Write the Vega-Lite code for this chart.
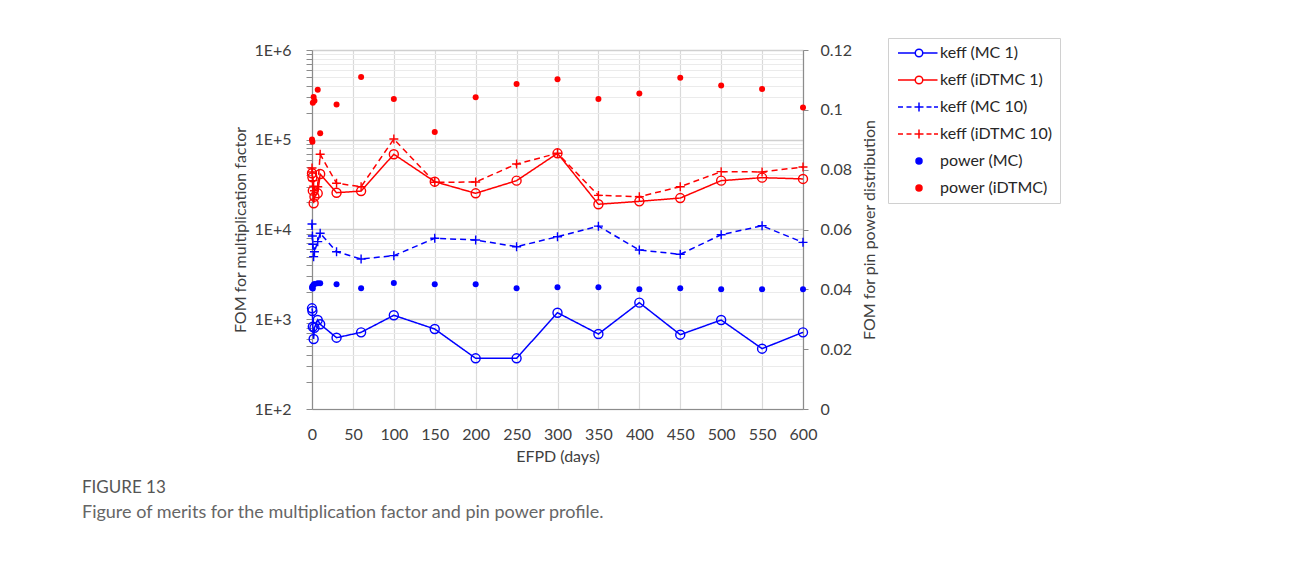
{
  "$schema": "https://vega.github.io/schema/vega-lite/v6.json",
  "width": 491,
  "height": 359,
  "autosize": {"type": "none"},
  "padding": {"left": 312, "top": 50, "right": 487, "bottom": 152},
  "background": "white",
  "config": {
    "view": {"stroke": null},
    "font": "Lato",
    "axis": {
      "labelFont": "Lato", "titleFont": "Lato", "labelFontSize": 16, "titleFontSize": 16,
      "labelColor": "#404040", "titleColor": "#404040", "titleFontWeight": "normal",
      "domainColor": "#8c8c8c", "tickColor": "#8c8c8c", "domainWidth": 1.2
    },
    "legend": {
      "labelFont": "Lato", "labelFontSize": 16, "labelColor": "#262626",
      "symbolSize": 100, "symbolStrokeWidth": 1.5, "symbolOpacity": 1,
      "strokeColor": "#d0d0d0", "fillColor": "white", "padding": 7,
      "rowPadding": 11, "symbolOffset": 16, "labelOffset": 13, "labelLimit": 300
    }
  },
  "title": {
    "text": "FIGURE 13",
    "subtitle": "Figure of merits for the multiplication factor and pin power profile.",
    "orient": "bottom", "anchor": "start", "frame": "group", "dx": -230, "offset": 16,
    "font": "Lato", "fontSize": 17, "fontWeight": "normal", "color": "#555555",
    "subtitleFont": "Lato", "subtitleFontSize": 18, "subtitleColor": "#666666", "subtitlePadding": 7
  },
  "data": {"values": [
    {"series":"keff (MC 1)","efpd":0,"fom":1324},{"series":"keff (MC 1)","efpd":0.5,"fom":1236},{"series":"keff (MC 1)","efpd":1,"fom":826},{"series":"keff (MC 1)","efpd":2,"fom":603},{"series":"keff (MC 1)","efpd":3,"fom":805},{"series":"keff (MC 1)","efpd":7,"fom":981},{"series":"keff (MC 1)","efpd":10,"fom":880},{"series":"keff (MC 1)","efpd":30,"fom":623},{"series":"keff (MC 1)","efpd":60,"fom":715},{"series":"keff (MC 1)","efpd":100,"fom":1107},{"series":"keff (MC 1)","efpd":150,"fom":778},{"series":"keff (MC 1)","efpd":200,"fom":367},{"series":"keff (MC 1)","efpd":250,"fom":367},{"series":"keff (MC 1)","efpd":300,"fom":1183},{"series":"keff (MC 1)","efpd":350,"fom":685},{"series":"keff (MC 1)","efpd":400,"fom":1530},{"series":"keff (MC 1)","efpd":450,"fom":673},{"series":"keff (MC 1)","efpd":500,"fom":981},{"series":"keff (MC 1)","efpd":550,"fom":470},{"series":"keff (MC 1)","efpd":600,"fom":715},
    {"series":"keff (iDTMC 1)","efpd":0,"fom":42300},{"series":"keff (iDTMC 1)","efpd":0.5,"fom":38200},{"series":"keff (iDTMC 1)","efpd":1,"fom":27100},{"series":"keff (iDTMC 1)","efpd":2,"fom":19600},{"series":"keff (iDTMC 1)","efpd":3,"fom":23200},{"series":"keff (iDTMC 1)","efpd":7,"fom":25300},{"series":"keff (iDTMC 1)","efpd":10,"fom":41500},{"series":"keff (iDTMC 1)","efpd":30,"fom":25700},{"series":"keff (iDTMC 1)","efpd":60,"fom":26800},{"series":"keff (iDTMC 1)","efpd":100,"fom":68900},{"series":"keff (iDTMC 1)","efpd":150,"fom":34100},{"series":"keff (iDTMC 1)","efpd":200,"fom":25300},{"series":"keff (iDTMC 1)","efpd":250,"fom":35000},{"series":"keff (iDTMC 1)","efpd":300,"fom":70600},{"series":"keff (iDTMC 1)","efpd":350,"fom":19100},{"series":"keff (iDTMC 1)","efpd":400,"fom":20600},{"series":"keff (iDTMC 1)","efpd":450,"fom":22400},{"series":"keff (iDTMC 1)","efpd":500,"fom":35000},{"series":"keff (iDTMC 1)","efpd":550,"fom":37800},{"series":"keff (iDTMC 1)","efpd":600,"fom":36600},
    {"series":"keff (MC 10)","efpd":0,"fom":11500},{"series":"keff (MC 10)","efpd":0.5,"fom":8470},{"series":"keff (MC 10)","efpd":1,"fom":6840},{"series":"keff (MC 10)","efpd":2,"fom":4980},{"series":"keff (MC 10)","efpd":3,"fom":5660},{"series":"keff (MC 10)","efpd":7,"fom":7320},{"series":"keff (MC 10)","efpd":10,"fom":9080},{"series":"keff (MC 10)","efpd":30,"fom":5660},{"series":"keff (MC 10)","efpd":60,"fom":4690},{"series":"keff (MC 10)","efpd":100,"fom":5110},{"series":"keff (MC 10)","efpd":150,"fom":7980},{"series":"keff (MC 10)","efpd":200,"fom":7640},{"series":"keff (MC 10)","efpd":250,"fom":6430},{"series":"keff (MC 10)","efpd":300,"fom":8310},{"series":"keff (MC 10)","efpd":350,"fom":10900},{"series":"keff (MC 10)","efpd":400,"fom":5910},{"series":"keff (MC 10)","efpd":450,"fom":5290},{"series":"keff (MC 10)","efpd":500,"fom":8750},{"series":"keff (MC 10)","efpd":550,"fom":11000},{"series":"keff (MC 10)","efpd":600,"fom":7190},
    {"series":"keff (iDTMC 10)","efpd":0,"fom":48400},{"series":"keff (iDTMC 10)","efpd":0.5,"fom":43700},{"series":"keff (iDTMC 10)","efpd":1,"fom":35000},{"series":"keff (iDTMC 10)","efpd":2,"fom":30400},{"series":"keff (iDTMC 10)","efpd":3,"fom":27000},{"series":"keff (iDTMC 10)","efpd":7,"fom":30000},{"series":"keff (iDTMC 10)","efpd":10,"fom":69000},{"series":"keff (iDTMC 10)","efpd":30,"fom":32700},{"series":"keff (iDTMC 10)","efpd":60,"fom":30000},{"series":"keff (iDTMC 10)","efpd":100,"fom":101900},{"series":"keff (iDTMC 10)","efpd":150,"fom":33600},{"series":"keff (iDTMC 10)","efpd":200,"fom":33800},{"series":"keff (iDTMC 10)","efpd":250,"fom":53700},{"series":"keff (iDTMC 10)","efpd":300,"fom":70600},{"series":"keff (iDTMC 10)","efpd":350,"fom":24000},{"series":"keff (iDTMC 10)","efpd":400,"fom":23200},{"series":"keff (iDTMC 10)","efpd":450,"fom":30000},{"series":"keff (iDTMC 10)","efpd":500,"fom":44100},{"series":"keff (iDTMC 10)","efpd":550,"fom":43800},{"series":"keff (iDTMC 10)","efpd":600,"fom":49700},
    {"series":"power (MC)","efpd":0,"fom":0.0405},{"series":"power (MC)","efpd":0.5,"fom":0.041},{"series":"power (MC)","efpd":1,"fom":0.0403},{"series":"power (MC)","efpd":2,"fom":0.0415},{"series":"power (MC)","efpd":3,"fom":0.0418},{"series":"power (MC)","efpd":7,"fom":0.042},{"series":"power (MC)","efpd":10,"fom":0.042},{"series":"power (MC)","efpd":30,"fom":0.0417},{"series":"power (MC)","efpd":60,"fom":0.0404},{"series":"power (MC)","efpd":100,"fom":0.0421},{"series":"power (MC)","efpd":150,"fom":0.0417},{"series":"power (MC)","efpd":200,"fom":0.0417},{"series":"power (MC)","efpd":250,"fom":0.0404},{"series":"power (MC)","efpd":300,"fom":0.0407},{"series":"power (MC)","efpd":350,"fom":0.0407},{"series":"power (MC)","efpd":400,"fom":0.04},{"series":"power (MC)","efpd":450,"fom":0.0404},{"series":"power (MC)","efpd":500,"fom":0.04},{"series":"power (MC)","efpd":550,"fom":0.04},{"series":"power (MC)","efpd":600,"fom":0.04},
    {"series":"power (iDTMC)","efpd":0,"fom":0.0901},{"series":"power (iDTMC)","efpd":0.5,"fom":0.0893},{"series":"power (iDTMC)","efpd":1,"fom":0.1024},{"series":"power (iDTMC)","efpd":2,"fom":0.1043},{"series":"power (iDTMC)","efpd":3,"fom":0.103},{"series":"power (iDTMC)","efpd":7,"fom":0.1067},{"series":"power (iDTMC)","efpd":10,"fom":0.0922},{"series":"power (iDTMC)","efpd":30,"fom":0.1018},{"series":"power (iDTMC)","efpd":60,"fom":0.111},{"series":"power (iDTMC)","efpd":100,"fom":0.1036},{"series":"power (iDTMC)","efpd":150,"fom":0.0926},{"series":"power (iDTMC)","efpd":200,"fom":0.1042},{"series":"power (iDTMC)","efpd":250,"fom":0.1086},{"series":"power (iDTMC)","efpd":300,"fom":0.1102},{"series":"power (iDTMC)","efpd":350,"fom":0.1036},{"series":"power (iDTMC)","efpd":400,"fom":0.1055},{"series":"power (iDTMC)","efpd":450,"fom":0.1107},{"series":"power (iDTMC)","efpd":500,"fom":0.1081},{"series":"power (iDTMC)","efpd":550,"fom":0.107},{"series":"power (iDTMC)","efpd":600,"fom":0.1008}
  ]},
  "encoding": {
    "x": {
      "field": "efpd", "type": "quantitative",
      "scale": {"domain": [0, 600], "nice": false},
      "axis": {
        "values": [0,50,100,150,200,250,300,350,400,450,500,550,600],
        "title": "EFPD (days)", "ticks": false, "tickSize": 0, "labelPadding": 17, "titlePadding": 6,
        "grid": true, "gridColor": "#d9d9d9", "gridWidth": 1.2, "labelFlush": false
      }
    }
  },
  "layer": [
    {
      "encoding": {
        "y": {
          "field": "fom", "type": "quantitative",
          "scale": {"type": "log", "domain": [100, 1000000], "nice": false},
          "axis": {
            "orient": "left",
            "title": "FOM for multiplication factor",
            "values": [100,200,300,400,500,600,700,800,900,1000,2000,3000,4000,5000,6000,7000,8000,9000,10000,20000,30000,40000,50000,60000,70000,80000,90000,100000,200000,300000,400000,500000,600000,700000,800000,900000,1000000],
            "labelExpr": "abs(log(datum.value)/LN10 - round(log(datum.value)/LN10)) < 0.001 ? '1E+' + round(log(datum.value)/LN10) : ''",
            "labelOverlap": false, "labelBound": false, "labelFlush": false,
            "tickSize": 6, "labelPadding": 15, "titlePadding": 5,
            "grid": true,
            "gridColor": {"condition": {"test": "abs(log(datum.value)/LN10 - round(log(datum.value)/LN10)) < 0.001", "value": "#d0d0d0"}, "value": "#ebebeb"},
            "gridWidth": {"condition": {"test": "abs(log(datum.value)/LN10 - round(log(datum.value)/LN10)) < 0.001", "value": 1.3}, "value": 1}
          }
        },
        "stroke": {
          "field": "series", "type": "nominal",
          "legend": {"title": null, "orient": "none", "legendX": 576, "legendY": -12},
          "scale": {"domain": ["keff (MC 1)", "keff (iDTMC 1)", "keff (MC 10)", "keff (iDTMC 10)", "power (MC)", "power (iDTMC)"], "range": ["#0000ff", "#ff0000", "#0000ff", "#ff0000", "#0000ff", "#ff0000"]}
        }
      },
      "layer": [
        {
          "transform": [{"filter": {"field": "series", "oneOf": ["keff (MC 1)", "keff (iDTMC 1)", "keff (MC 10)", "keff (iDTMC 10)"]}}],
          "mark": {"type": "line", "strokeWidth": 1.5},
          "encoding": {
            "strokeDash": {
              "field": "series", "type": "nominal", "legend": null,
              "scale": {"domain": ["keff (MC 1)", "keff (iDTMC 1)", "keff (MC 10)", "keff (iDTMC 10)"], "range": [[1, 0], [1, 0], [6, 4], [6, 4]]}
            }
          }
        },
        {
          "transform": [{"filter": {"field": "series", "oneOf": ["keff (MC 1)", "keff (iDTMC 1)"]}}],
          "mark": {"type": "point", "shape": "circle", "filled": false, "size": 81, "strokeWidth": 1.4, "opacity": 1}
        },
        {
          "transform": [{"filter": {"field": "series", "oneOf": ["keff (MC 10)", "keff (iDTMC 10)"]}}],
          "mark": {"type": "point", "shape": "M-1,0H1M0,-1V1", "filled": false, "size": 81, "strokeWidth": 1.4, "opacity": 1}
        },
        {
          "transform": [{"filter": {"field": "series", "oneOf": ["keff (MC 1)", "keff (iDTMC 1)", "keff (MC 10)", "keff (iDTMC 10)"]}}],
          "mark": {"type": "point", "opacity": 0, "clip": true},
          "encoding": {
            "shape": {
              "field": "series", "type": "nominal",
              "legend": {"title": null, "orient": "none", "legendX": 576, "legendY": -12},
              "scale": {"domain": ["keff (MC 1)", "keff (iDTMC 1)", "keff (MC 10)", "keff (iDTMC 10)", "power (MC)", "power (iDTMC)"],
                "range": [
                  "M-4.2,0H-0.75M0.75,0H3.7M-0.75,0A0.75,0.75 0 1,0 0.75,0A0.75,0.75 0 1,0 -0.75,0",
                  "M-4.2,0H-0.75M0.75,0H3.7M-0.75,0A0.75,0.75 0 1,0 0.75,0A0.75,0.75 0 1,0 -0.75,0",
                  "M-4.2,0H-3.2M-2.5,0H-1.5M-0.9,0H0.9M0,-0.9V0.9M1.5,0H2.5M3.0,0H3.8",
                  "M-4.2,0H-3.2M-2.5,0H-1.5M-0.9,0H0.9M0,-0.9V0.9M1.5,0H2.5M3.0,0H3.8",
                  "M-0.6,0A0.6,0.6 0 1,0 0.6,0A0.6,0.6 0 1,0 -0.6,0",
                  "M-0.6,0A0.6,0.6 0 1,0 0.6,0A0.6,0.6 0 1,0 -0.6,0"
                ]}
            },
            "fill": {
              "field": "series", "type": "nominal",
              "legend": {"title": null, "orient": "none", "legendX": 576, "legendY": -12},
              "scale": {"domain": ["keff (MC 1)", "keff (iDTMC 1)", "keff (MC 10)", "keff (iDTMC 10)", "power (MC)", "power (iDTMC)"], "range": ["transparent", "transparent", "transparent", "transparent", "#0000ff", "#ff0000"]}
            }
          }
        }
      ]
    },
    {
      "transform": [{"filter": {"field": "series", "oneOf": ["power (MC)", "power (iDTMC)"]}}],
      "mark": {"type": "point", "shape": "circle", "filled": true, "size": 36, "opacity": 1},
      "encoding": {
        "y": {
          "field": "fom", "type": "quantitative",
          "scale": {"domain": [0, 0.12], "nice": false},
          "axis": {
            "orient": "right", "title": "FOM for pin power distribution",
            "values": [0, 0.02, 0.04, 0.06, 0.08, 0.1, 0.12],
            "labelExpr": "format(datum.value, '.2~f')",
            "grid": false, "tickSize": 5, "labelPadding": 12, "titlePadding": 10,
            "titleAngle": 270, "titleBaseline": "top", "labelFlush": false
          }
        },
        "fill": {"field": "series", "type": "nominal", "legend": {"title": null, "orient": "none", "legendX": 576, "legendY": -12}}
      }
    }
  ],
  "resolve": {"scale": {"y": "independent"}}
}
